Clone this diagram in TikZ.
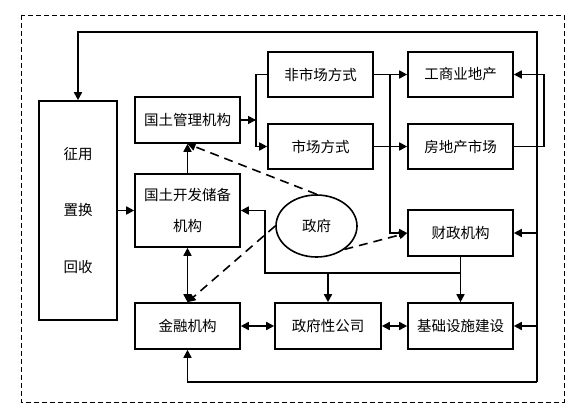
\documentclass[tikz,border=0pt]{standalone}
\usepackage{fontspec}
\newfontfamily\cjk{Noto Sans CJK SC}
\usetikzlibrary{arrows.meta,shapes.geometric}
\tikzset{
  box/.style={draw, line width=1.6pt, inner sep=0pt, font=\cjk\fontsize{14.5}{18}\selectfont, align=center},
  arr/.style={line width=1.6pt, -{Triangle[length=8pt,width=8pt]}},
  darr/.style={line width=1.6pt, {Triangle[length=8pt,width=8pt]}-{Triangle[length=8pt,width=8pt]}},
  dsh/.style={dash pattern=on 9pt off 6pt},
  plain/.style={line width=1.6pt}
}
\begin{document}
\begin{tikzpicture}[x=1pt,y=-1pt]
\useasboundingbox (0,0) rectangle (587,414);
\draw[line width=0.8pt, dash pattern=on 5pt off 3pt] (21,15) rectangle (564,402);
% boxes
\node[box, minimum width=78pt, minimum height=219pt, font=\cjk\fontsize{14.5}{56.5}\selectfont] (zy) at (78,210.5) {征用\\置换\\回收};
\node[box, minimum width=105pt, minimum height=46pt] (glj) at (187.5,120) {国土管理机构};
\node[box, minimum width=105pt, minimum height=73pt, font=\cjk\fontsize{14.5}{31}\selectfont] (kf) at (187.5,210.5) {国土开发储备\\机构};
\node[box, minimum width=105pt, minimum height=46pt] (jr) at (187.5,326) {金融机构};
\node[box, minimum width=106pt, minimum height=46pt] (gs) at (328,326) {政府性公司};
\node[box, minimum width=105pt, minimum height=46pt] (jc) at (460.5,326) {基础设施建设};
\node[box, minimum width=105pt, minimum height=46pt] (cz) at (460.5,233) {财政机构};
\node[box, minimum width=105pt, minimum height=45pt] (fsc) at (320.5,74.5) {非市场方式};
\node[box, minimum width=105pt, minimum height=45pt] (sc) at (320.5,146.5) {市场方式};
\node[box, minimum width=105pt, minimum height=45pt] (gsy) at (460.5,74.5) {工商业地产};
\node[box, minimum width=105pt, minimum height=45pt] (fdc) at (460.5,146.5) {房地产市场};
\node[box, ellipse, minimum width=81pt, minimum height=62pt] (zf) at (316.5,226) {政府};
% coordinates
\coordinate (tr) at (537,32);
\coordinate (br) at (537,382);
\coordinate (rr) at (544,146.5);
\coordinate (j1) at (256,120);
\coordinate (j2) at (390,74.5);
\coordinate (j3) at (265,273);
% big loop
\draw[arr] (br) -- (tr) -| (zy.north);
\draw[arr] (br) -| (jr.south);
\draw[arr] (cz.east -| br) -- (cz.east);
\draw[arr] (jc.east -| br) -- (jc.east);
% real estate loop
\draw[arr] (fdc.east) -- (rr) |- (gsy.east);
% management branch
\draw[arr] (glj.east) -- (j1);
\draw[arr] (fsc.west) -- (fsc.west -| j1) |- (sc.west);
\draw[arr] (fsc.east) -- (gsy.west);
\draw[arr] (sc.east) -- (fdc.west);
\draw[arr] (j2) |- (cz.west);
% finance
\draw[arr] (cz.south) -- (jc.north);
\draw[arr] (cz.south |- j3) -- (j3) |- (kf.east);
\draw[arr] (gs.north |- j3) -- (gs.north);
\draw[arr] (kf.north) -- (glj.south);
\draw[darr] (kf.south) -- (jr.north);
\draw[darr] (jr.east) -- (gs.west);
\draw[darr] (gs.east) -- (jc.west);
\draw[arr] (zy.east |- kf.west) -- (kf.west);
% dashed
\draw[arr, dsh] (zf.north) -- (glj.south);
\draw[arr, dsh] (zf.-40) -- (cz.west);
\draw[arr, dsh] (zf.west) -- (jr.north);
\end{tikzpicture}
\end{document}
